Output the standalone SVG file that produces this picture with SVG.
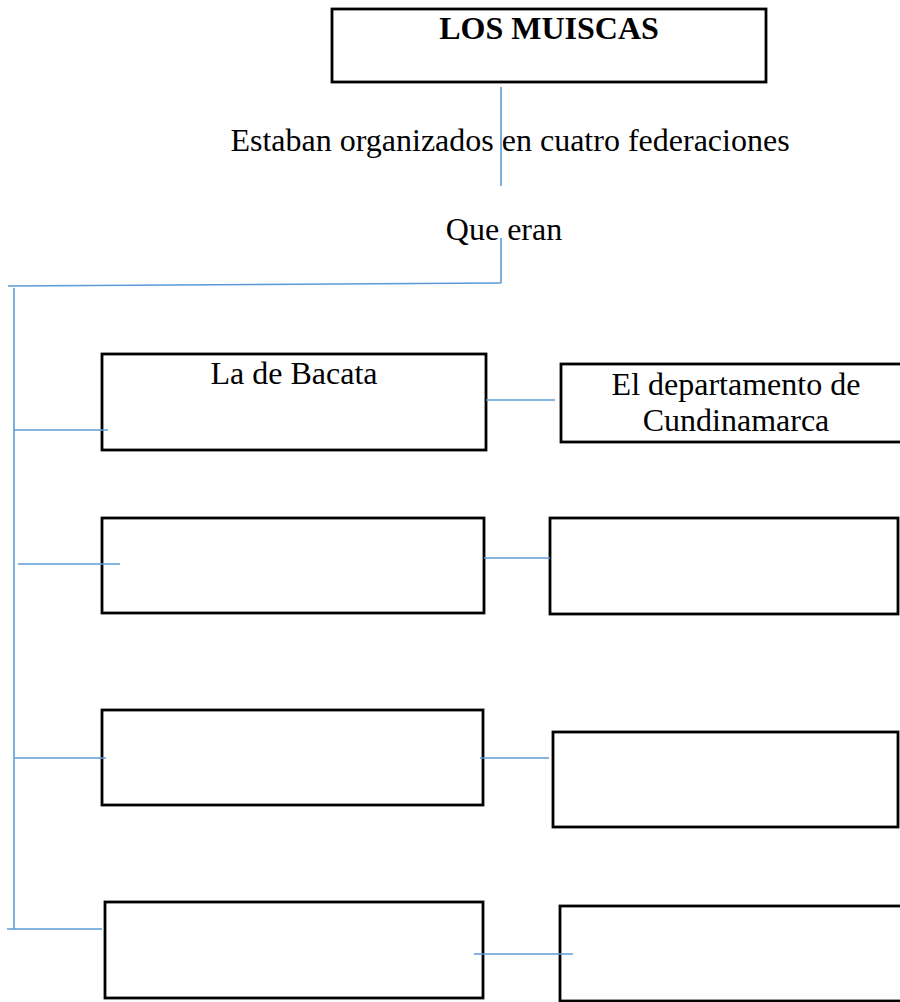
<svg xmlns="http://www.w3.org/2000/svg" width="900" height="1002" viewBox="0 0 900 1002">
<style>
.box{fill:#fff;stroke:#000;stroke-width:2.8}
.ln{stroke:#5B9BD5;stroke-width:1.6;fill:none}
.t{font-family:"Liberation Serif","Times New Roman",serif;font-size:32px;fill:#000;text-anchor:middle}
.b{font-weight:bold}
</style>
<rect width="900" height="1002" fill="#fff"/>
<g id="n-muiscas"><rect class="box" x="332" y="9" width="434" height="73"/><text class="t b" x="549" y="39">LOS MUISCAS</text></g>
<g id="l-estaban"><text class="t" x="510" y="151">Estaban organizados en cuatro federaciones</text></g>
<g id="l-que"><text class="t" x="504" y="240">Que eran</text></g>
<g id="n-bacata"><rect class="box" x="102" y="354" width="384" height="96"/><text class="t" x="294" y="384">La de Bacata</text></g>
<g id="n-cundinamarca"><rect class="box" x="561" y="364" width="350" height="78"/><text class="t" x="736" y="395">El departamento de</text><text class="t" x="736" y="431">Cundinamarca</text></g>
<g id="n-b2"><rect class="box" x="102" y="518" width="382" height="95"/></g>
<g id="n-r2"><rect class="box" x="550" y="518" width="348" height="96"/></g>
<g id="n-b3"><rect class="box" x="102" y="710" width="381" height="95"/></g>
<g id="n-r3"><rect class="box" x="553" y="732" width="345" height="95"/></g>
<g id="n-b4"><rect class="box" x="105" y="902" width="378" height="96"/></g>
<g id="n-r4"><rect class="box" x="560" y="906" width="350" height="95"/></g>
<g id="connectors">
<line class="ln" x1="501" y1="87" x2="501" y2="186"/>
<line class="ln" x1="501" y1="238" x2="501" y2="283"/>
<line class="ln" x1="8" y1="286" x2="501" y2="283"/>
<line class="ln" x1="14" y1="288" x2="14" y2="929"/>
<line class="ln" x1="14" y1="430" x2="108" y2="430"/>
<line class="ln" x1="18" y1="564" x2="120" y2="564"/>
<line class="ln" x1="15" y1="758" x2="106" y2="758"/>
<line class="ln" x1="7" y1="929" x2="102" y2="929"/>
<line class="ln" x1="486" y1="400" x2="555" y2="400"/>
<line class="ln" x1="484" y1="558" x2="550" y2="558"/>
<line class="ln" x1="480" y1="758" x2="549" y2="758"/>
<line class="ln" x1="474" y1="954" x2="573" y2="954"/>
</g>
</svg>
